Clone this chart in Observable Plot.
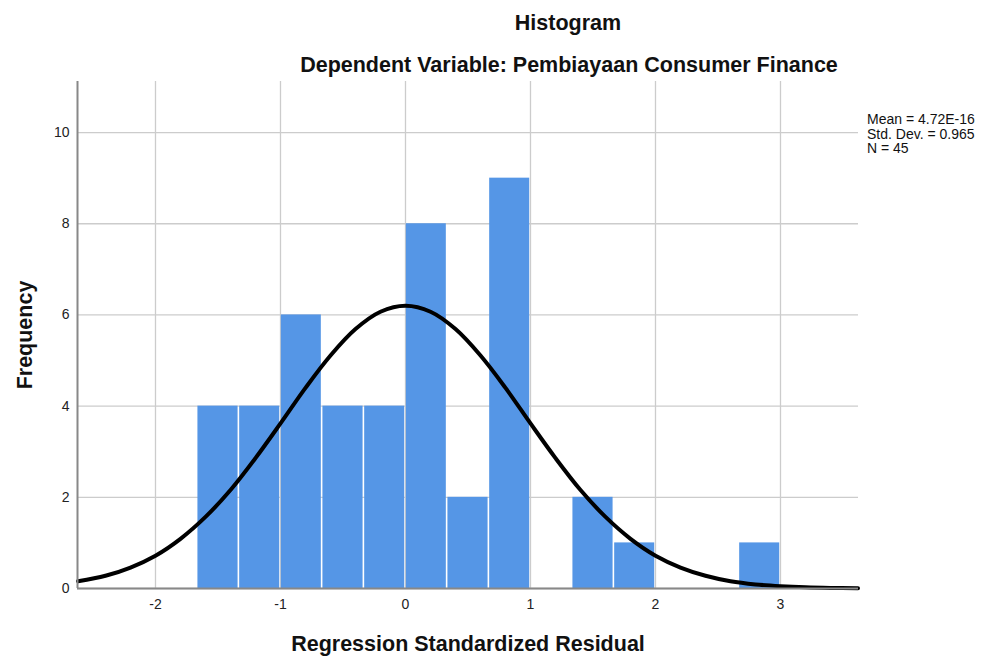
<!DOCTYPE html>
<html>
<head>
<meta charset="utf-8">
<script src="https://cdn.jsdelivr.net/npm/d3@7"></script>
<script src="https://cdn.jsdelivr.net/npm/@observablehq/plot@0.6"></script>
<style>
  html, body { margin: 0; padding: 0; background: #fff; }
  svg { font-family: "Liberation Sans", Arial, sans-serif; }
</style>
</head>
<body>
<div id="chart"></div>
<script>
// Histogram bins (lower edge, upper edge, frequency)
const binLow  = [-1.667, -1.333, -1.0, -0.667, -0.333, 0.0, 0.333, 0.667, 1.0, 1.333, 1.667, 2.0, 2.333, 2.667];
const binHigh = [-1.333, -1.0, -0.667, -0.333, 0.0, 0.333, 0.667, 1.0, 1.333, 1.667, 2.0, 2.333, 2.667, 3.0];
const counts  = [4, 4, 6, 4, 4, 8, 2, 9, 0, 2, 1, 0, 0, 1];

// Normal curve points
const curveX = [-2.62, -2.4, -2.2, -2.0, -1.8, -1.6, -1.4, -1.2, -1.0, -0.8, -0.6, -0.4, -0.2, 0.0,
                0.2, 0.4, 0.6, 0.8, 1.0, 1.2, 1.4, 1.6, 1.8, 2.0, 2.2, 2.4, 2.6, 2.8, 3.0, 3.2, 3.4, 3.62];
const curveY = [0.16, 0.28, 0.46, 0.72, 1.09, 1.57, 2.16, 2.86, 3.62, 4.40, 5.11, 5.69, 6.07, 6.20,
                6.07, 5.69, 5.11, 4.40, 3.62, 2.86, 2.16, 1.57, 1.09, 0.72, 0.46, 0.28, 0.16, 0.09, 0.05, 0.025, 0.012, 0.006];

const xTicks = [-2, -1, 0, 1, 2, 3];
const yTicks = [0, 2, 4, 6, 8, 10];

const title = "Histogram";
const subtitle = "Dependent Variable: Pembiayaan Consumer Finance";
const xLabel = "Regression Standardized Residual";
const yLabel = "Frequency";
const stats = ["Mean = 4.72E-16", "Std. Dev. = 0.965", "N = 45"];

const bins = binLow.map((lo, i) => ({x1: lo, x2: binHigh[i], y: counts[i]})).filter(d => d.y > 0);
const curve = curveX.map((x, i) => ({x, y: curveY[i]}));

const xDomain = [-2.624, 3.624];
const yDomain = [0, 11.12];
const fmt = d => String(d).replace("\u2212", "-");

const chart = Plot.plot({
  width: 992,
  height: 658,
  marginLeft: 77,
  marginRight: 134,
  marginTop: 81,
  marginBottom: 70,
  style: {fontFamily: "'Liberation Sans', Arial, sans-serif", fontSize: "14px", color: "#222"},
  x: {domain: xDomain, ticks: xTicks, label: null},
  y: {domain: yDomain, ticks: yTicks, label: null},
  marks: [
    Plot.gridX(xTicks, {stroke: "#cccccc", strokeOpacity: 1, strokeWidth: 1.3}),
    Plot.gridY(yTicks, {stroke: "#cccccc", strokeOpacity: 1, strokeWidth: 1.3}),
    Plot.rectY(bins, {x1: "x1", x2: "x2", y: "y", fill: "#5596e6", insetLeft: 0.8, insetRight: 0.8}),
    Plot.line(curve, {x: "x", y: "y", stroke: "#000", strokeWidth: 4, curve: "catmull-rom"}),
    Plot.ruleX([xDomain[0]], {stroke: "#888", strokeWidth: 2}),
    Plot.ruleY([0], {stroke: "#888", strokeWidth: 2}),
    Plot.axisX(xTicks, {tickSize: 0, tickPadding: 11, fontSize: 14, fill: "#222", tickFormat: fmt}),
    Plot.axisY(yTicks, {tickSize: 0, tickPadding: 8, fontSize: 14, fill: "#222", tickFormat: fmt})
  ]
});

const svg = d3.select(chart);
const font = "'Liberation Sans', Arial, sans-serif";
const addText = (x, y, txt, size, bold, anchor, transform) => {
  const t = svg.append("text").attr("text-anchor", anchor)
    .attr("font-family", font).attr("font-size", size).attr("fill", "#111")
    .attr("font-weight", bold ? "bold" : "normal").text(txt);
  if (transform) t.attr("transform", transform); else t.attr("x", x).attr("y", y);
};
addText(568, 30, title, 21.5, true, "middle");
addText(569, 72, subtitle, 21.5, true, "middle");
addText(468, 651, xLabel, 21.5, true, "middle");
addText(0, 0, yLabel, 21.5, true, "middle", "translate(32,335) rotate(-90)");
stats.forEach((s, i) => addText(867, 124 + i * 14.5, s, 14, false, "start"));

document.getElementById("chart").appendChild(chart);
</script>
</body>
</html>
